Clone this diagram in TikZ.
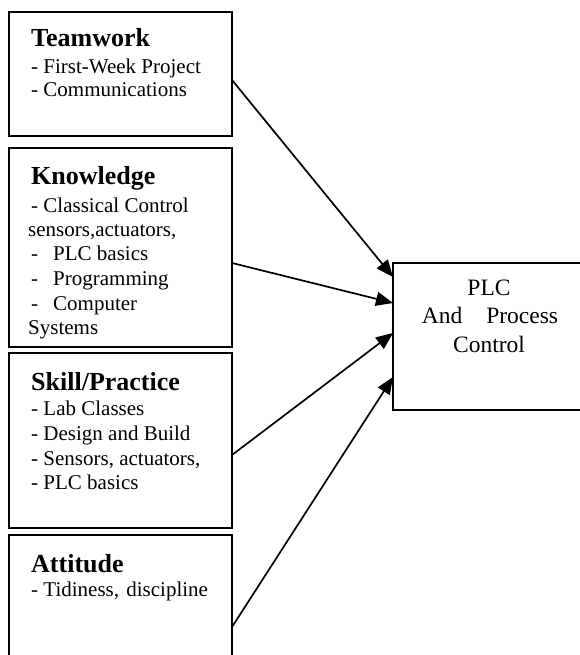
\documentclass[tikz,border=0pt]{standalone}
\usepackage{fontspec}
\setmainfont{Liberation Serif}
\usetikzlibrary{arrows.meta}
\tikzset{
  box/.style={draw, line width=2pt, anchor=north west, inner sep=0pt, outer sep=0pt},
  ttl/.style={anchor=base west, inner sep=0pt, font=\fontsize{26}{30}\selectfont\bfseries},
  txt/.style={anchor=base west, inner sep=0pt, font=\fontsize{21}{24}\selectfont},
  plct/.style={anchor=base, inner sep=0pt, font=\fontsize{23.5}{28}\selectfont},
  arr/.style={line width=1.7pt, -{Triangle[length=17pt,width=14pt]}}
}
\begin{document}
\begin{tikzpicture}[x=1pt,y=-1pt]
\useasboundingbox (0,0) rectangle (580,655);
\clip (0,0) rectangle (580,655);
% boxes
\node[box, minimum width=223pt, minimum height=124pt] (tw) at (9,12) {};
\node[box, minimum width=223pt, minimum height=199pt] (kn) at (9,148) {};
\node[box, minimum width=223pt, minimum height=175pt] (sk) at (9,353) {};
\node[box, minimum width=223pt, minimum height=140pt] (at) at (9,535) {};
\node[box, minimum width=200pt, minimum height=147pt] (plc) at (393,263) {};
% Teamwork
\node[ttl] (tw0) at (31,47) {Teamwork};
\node[txt] (tw1) at (31,74) {- First-Week Project};
\node[txt] (tw2) at (31,97) {- Communications};
% Knowledge
\node[ttl] (kn0) at (31,185) {Knowledge};
\node[txt] (kn1) at (31,212) {- Classical Control};
\node[txt] (kn2) at (28,236) {sensors,actuators,};
\node[txt] (kn3) at (31,260) {\makebox[22pt][l]{-}PLC basics};
\node[txt] (kn4) at (31,285) {\makebox[22pt][l]{-}Programming};
\node[txt] (kn5) at (31,310) {\makebox[22pt][l]{-}Computer};
\node[txt] (kn6) at (28,334) {Systems};
% Skill/Practice
\node[ttl] (sk0) at (31,390) {Skill/Practice};
\node[txt] (sk1) at (31,415) {- Lab Classes};
\node[txt] (sk2) at (31,440) {- Design and Build};
\node[txt] (sk3) at (31,465) {- Sensors, actuators,};
\node[txt] (sk4) at (31,489) {- PLC basics};
% Attitude
\node[ttl] (at0) at (31,572) {Attitude};
\node[txt] (at1) at (31,596) {- Tidiness,\hspace{2pt} discipline};
% PLC
\node[plct] (p1) at (489,295) {PLC};
\node[plct] (p2) at (490,323) {And\hspace{24pt}Process};
\node[plct] (p3) at (489,352) {Control};
% connector endpoints
\coordinate (s1) at (232,80);
\coordinate (s2) at (232,263);
\coordinate (s3) at (232,455);
\coordinate (s4) at (232,627);
\coordinate (e1) at (393,277);
\coordinate (e2) at (393,303);
\coordinate (e3) at (393,333);
\coordinate (e4) at (393,377);
\draw[arr] (s1) -- (e1);
\draw[arr] (s2) -- (e2);
\draw[arr] (s3) -- (e3);
\draw[arr] (s4) -- (e4);
\end{tikzpicture}
\end{document}
